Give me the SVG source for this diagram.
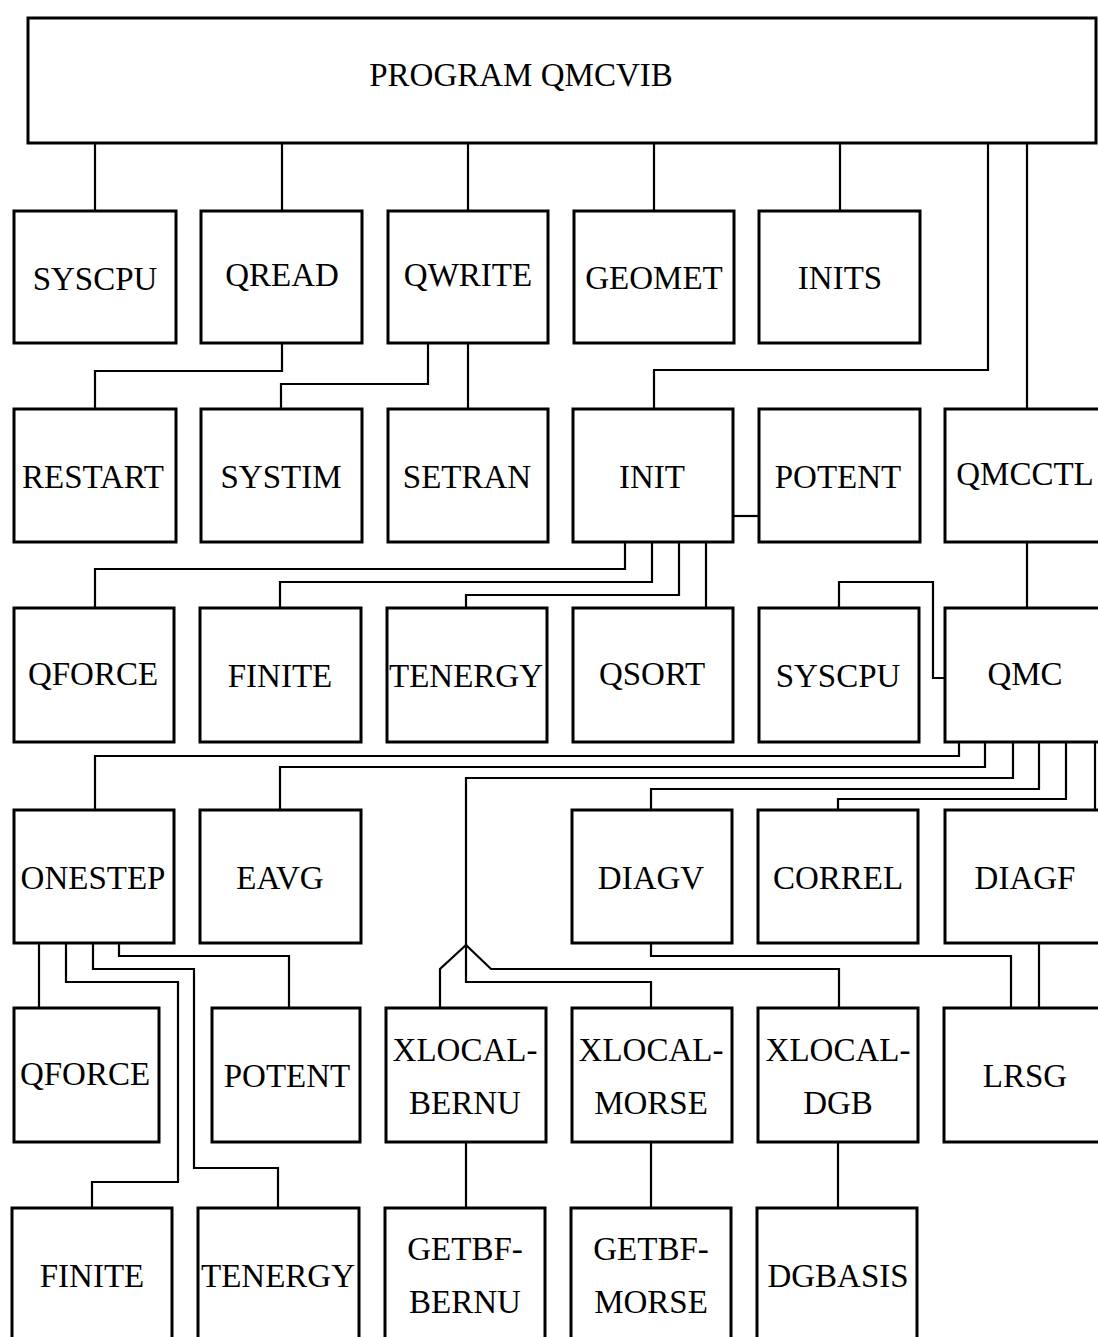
<svg xmlns="http://www.w3.org/2000/svg" width="1098" height="1337" viewBox="0 0 1098 1337">
<style>
.b{fill:#fff;stroke:#000;stroke-width:3}
.c{fill:none;stroke:#000;stroke-width:2.2;stroke-linejoin:miter}
text{font-family:"Liberation Serif","DejaVu Serif",serif;font-size:33px;fill:#000;text-anchor:middle}
</style>
<rect width="1098" height="1337" fill="#fff"/>
<g id="connectors" class="c">
<path d="M95 143V211M282 143V211M468 143V211M654 143V211M840 143V211"/>
<path d="M988 143V370H654V409"/>
<path d="M1027 143V409"/>
<path d="M282 343V371H95V409"/>
<path d="M428 343V384H281V409"/>
<path d="M468 343V409"/>
<path d="M733 516H759"/>
<path d="M625 542V569H95V608"/>
<path d="M652 542V582H280V608"/>
<path d="M679 542V595H466V608"/>
<path d="M706 542V608"/>
<path d="M839 608V582H933V678H945"/>
<path d="M1027 542V608"/>
<path d="M959 742V756H95V810"/>
<path d="M985 742V767H280V810"/>
<path d="M1013 742V778H466V945"/>
<path d="M1039 742V789H651V810"/>
<path d="M1066 742V799H838V810"/>
<path d="M1095 742V810"/>
<path d="M466 945L440 969V1008"/>
<path d="M466 945L491 969H839V1008"/>
<path d="M466 945V982H651V1008"/>
<path d="M651 943V956H1011V1008"/>
<path d="M1039 943V1008"/>
<path d="M39 943V1008"/>
<path d="M66 943V982H178V1182H92V1208"/>
<path d="M93 943V969H194V1168H278V1208"/>
<path d="M119 943V956H289V1008"/>
<path d="M466 1142V1208M651 1142V1208M838 1142V1208"/>
</g>
<g id="n_main"><rect class="b" x="28" y="18" width="1068" height="125"/><text x="521" y="86">PROGRAM QMCVIB</text></g>
<g id="n_syscpu1"><rect class="b" x="14" y="211" width="162" height="132"/><text x="95" y="290">SYSCPU</text></g>
<g id="n_qread"><rect class="b" x="201" y="211" width="161" height="132"/><text x="282" y="286">QREAD</text></g>
<g id="n_qwrite"><rect class="b" x="388" y="211" width="160" height="132"/><text x="468" y="286">QWRITE</text></g>
<g id="n_geomet"><rect class="b" x="574" y="211" width="160" height="132"/><text x="654" y="289">GEOMET</text></g>
<g id="n_inits"><rect class="b" x="759" y="211" width="161" height="132"/><text x="840" y="289">INITS</text></g>
<g id="n_restart"><rect class="b" x="14" y="409" width="162" height="133"/><text x="93" y="488">RESTART</text></g>
<g id="n_systim"><rect class="b" x="201" y="409" width="161" height="133"/><text x="281" y="488">SYSTIM</text></g>
<g id="n_setran"><rect class="b" x="388" y="409" width="160" height="133"/><text x="467" y="488">SETRAN</text></g>
<g id="n_init"><rect class="b" x="573" y="409" width="160" height="133"/><text x="652" y="488">INIT</text></g>
<g id="n_potent1"><rect class="b" x="759" y="409" width="161" height="133"/><text x="838" y="488">POTENT</text></g>
<g id="n_qmcctl"><rect class="b" x="945" y="409" width="165" height="133"/><text x="1025" y="485">QMCCTL</text></g>
<g id="n_qforce1"><rect class="b" x="14" y="608" width="160" height="134"/><text x="93" y="685">QFORCE</text></g>
<g id="n_finite1"><rect class="b" x="200" y="608" width="161" height="134"/><text x="280" y="687">FINITE</text></g>
<g id="n_tenergy1"><rect class="b" x="387" y="608" width="160" height="134"/><text x="466" y="687">TENERGY</text></g>
<g id="n_qsort"><rect class="b" x="573" y="608" width="160" height="134"/><text x="652" y="685">QSORT</text></g>
<g id="n_syscpu2"><rect class="b" x="759" y="608" width="160" height="134"/><text x="838" y="687">SYSCPU</text></g>
<g id="n_qmc"><rect class="b" x="945" y="608" width="165" height="134"/><text x="1025" y="685">QMC</text></g>
<g id="n_onestep"><rect class="b" x="14" y="810" width="160" height="133"/><text x="93" y="889">ONESTEP</text></g>
<g id="n_eavg"><rect class="b" x="200" y="810" width="161" height="133"/><text x="280" y="889">EAVG</text></g>
<g id="n_diagv"><rect class="b" x="572" y="810" width="160" height="133"/><text x="651" y="889">DIAGV</text></g>
<g id="n_correl"><rect class="b" x="758" y="810" width="160" height="133"/><text x="838" y="889">CORREL</text></g>
<g id="n_diagf"><rect class="b" x="945" y="810" width="165" height="133"/><text x="1025" y="889">DIAGF</text></g>
<g id="n_qforce2"><rect class="b" x="14" y="1008" width="145" height="134"/><text x="85" y="1085">QFORCE</text></g>
<g id="n_potent2"><rect class="b" x="212" y="1008" width="148" height="134"/><text x="287" y="1087">POTENT</text></g>
<g id="n_xbernu"><rect class="b" x="386" y="1008" width="160" height="134"/><text x="465" y="1061">XLOCAL-</text><text x="465" y="1114">BERNU</text></g>
<g id="n_xmorse"><rect class="b" x="572" y="1008" width="160" height="134"/><text x="651" y="1061">XLOCAL-</text><text x="651" y="1114">MORSE</text></g>
<g id="n_xdgb"><rect class="b" x="758" y="1008" width="160" height="134"/><text x="838" y="1061">XLOCAL-</text><text x="838" y="1114">DGB</text></g>
<g id="n_lrsg"><rect class="b" x="944" y="1008" width="165" height="134"/><text x="1025" y="1087">LRSG</text></g>
<g id="n_finite2"><rect class="b" x="12" y="1208" width="160" height="140"/><text x="92" y="1287">FINITE</text></g>
<g id="n_tenergy2"><rect class="b" x="198" y="1208" width="161" height="140"/><text x="278" y="1287">TENERGY</text></g>
<g id="n_gbernu"><rect class="b" x="385" y="1208" width="160" height="140"/><text x="465" y="1260">GETBF-</text><text x="465" y="1313">BERNU</text></g>
<g id="n_gmorse"><rect class="b" x="571" y="1208" width="160" height="140"/><text x="651" y="1260">GETBF-</text><text x="651" y="1313">MORSE</text></g>
<g id="n_dgbasis"><rect class="b" x="757" y="1208" width="160" height="140"/><text x="838" y="1287">DGBASIS</text></g>
</svg>
